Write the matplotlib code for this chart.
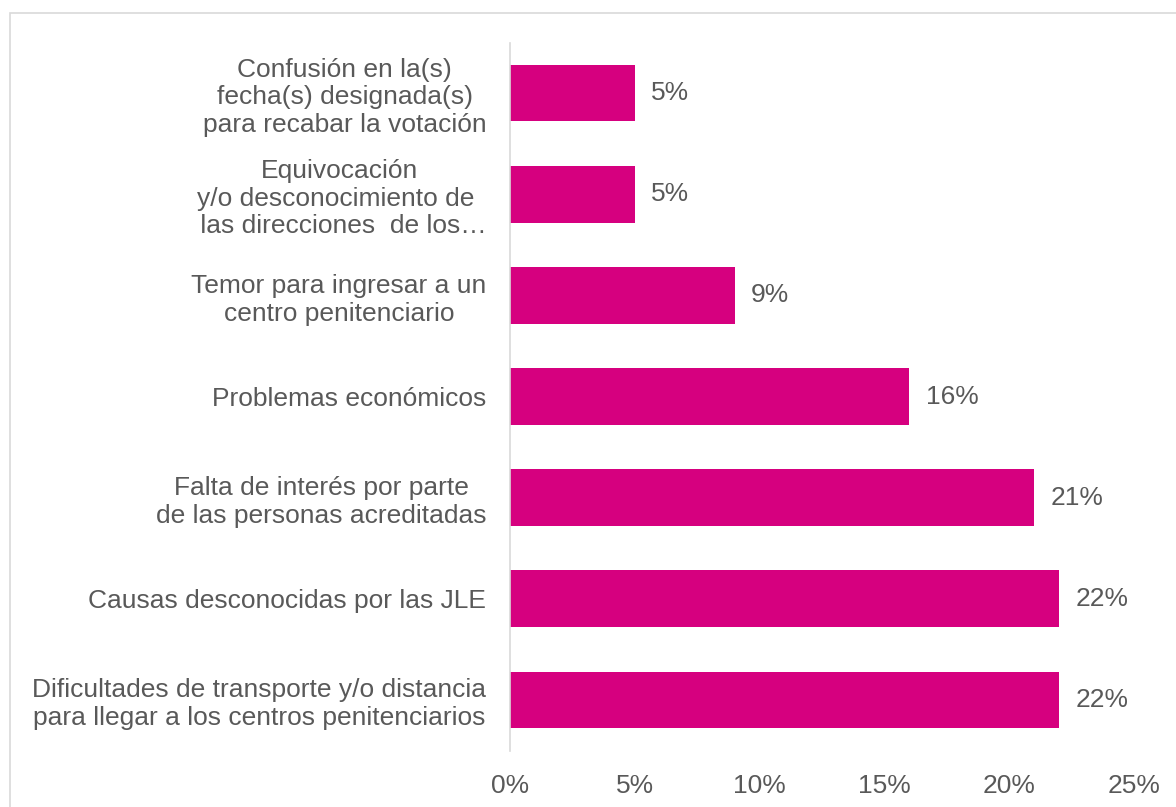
import matplotlib.pyplot as plt
from matplotlib.patches import Rectangle

plt.rcParams['font.family'] = ['Liberation Sans', 'DejaVu Sans']

causas = [
    'Confusión en la(s)\nfecha(s) designada(s)\npara recabar la votación',
    'Equivocación\ny/o desconocimiento de \n las direcciones  de los…',
    'Temor para ingresar a un\ncentro penitenciario',
    'Problemas económicos',
    'Falta de interés por parte\nde las personas acreditadas',
    'Causas desconocidas por las JLE',
    'Dificultades de transporte y/o distancia\npara llegar a los centros penitenciarios',
]
porcentajes = [5, 5, 9, 16, 21, 22, 22]
ticks_x = [0, 5, 10, 15, 20, 25]

rosa = '#D6007F'
gris = '#595959'
fs = 19

fig = plt.figure(figsize=(11.76, 8.07), dpi=100)
ax = fig.add_axes([510 / 1176, 1 - 750.5 / 807, 624 / 1176, 708 / 807])

pos = list(range(len(causas)))
ax.barh(pos, porcentajes, height=0.56, color=rosa)
ax.set_ylim(len(causas) - 0.5, -0.5)
ax.set_xlim(0, 25)

for p, v in zip(pos, porcentajes):
    ax.text(v + 0.65, p, f'{v}%', va='center', ha='left', fontsize=fs, color=gris)

ax.set_yticks(pos)
ax.set_yticklabels(causas, fontsize=fs, color=gris, multialignment='center',
                   linespacing=1.2)
ax.set_xticks(ticks_x)
ax.set_xticklabels([f'{t}%' for t in ticks_x], fontsize=fs, color=gris)
ax.tick_params(axis='y', length=0, pad=17)
ax.tick_params(axis='x', length=0, pad=17)

for s in ['top', 'right', 'bottom']:
    ax.spines[s].set_visible(False)
ax.spines['left'].set_color('#D9D9D9')
ax.spines['left'].set_linewidth(1.2)

# marco gris alrededor del grafico
fig.patches.append(Rectangle((10 / 1176, -0.05), 1.2, 1 - 13 / 807 + 0.05,
                             transform=fig.transFigure, fill=False,
                             edgecolor='#D9D9D9', linewidth=1.2))

fig.savefig('out.png', dpi=100)
